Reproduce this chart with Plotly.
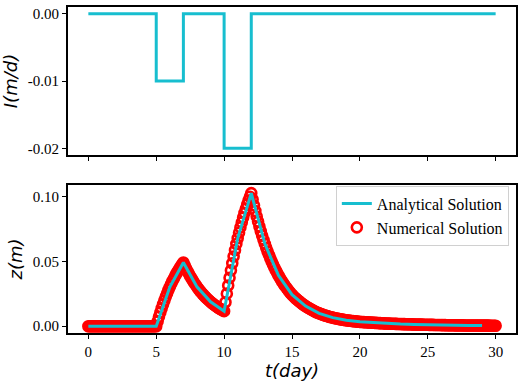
import plotly.graph_objects as go

# ---------------- data ----------------
# Infiltration / flux steps (m/d)
I_t = [0, 5, 7, 10, 12, 30]
I_val = [0.0, -0.01, 0.0, -0.02, 0.0, 0.0]

# Analytical solution sampled at whole days 0..29
ana_t = list(range(0, 30))
ana_z = [0.0, 0.0, 0.0, 0.0, 0.0, 0.0, 0.0302, 0.0490, 0.0303, 0.0188,
         0.0116, 0.0677, 0.1024, 0.0634, 0.0392, 0.0243, 0.0155, 0.0099,
         0.0066, 0.0046, 0.0034, 0.0027, 0.0021, 0.0017, 0.0014, 0.0011,
         0.0009, 0.0007, 0.0006, 0.0005]

# Numerical solution at 0.1-day steps, 0..30
num_t = [round(i * 0.1, 1) for i in range(301)]
num_z = [
    # 0.0 - 5.0
    0, 0, 0, 0, 0, 0, 0, 0, 0, 0,
    0, 0, 0, 0, 0, 0, 0, 0, 0, 0,
    0, 0, 0, 0, 0, 0, 0, 0, 0, 0,
    0, 0, 0, 0, 0, 0, 0, 0, 0, 0,
    0, 0, 0, 0, 0, 0, 0, 0, 0, 0,
    0,
    # 5.1 - 7.0
    0.00372, 0.00727, 0.01065, 0.01387, 0.01694, 0.01987, 0.02266, 0.02532, 0.02785, 0.03027,
    0.03257, 0.03477, 0.03686, 0.03885, 0.04075, 0.04257, 0.04429, 0.04593, 0.04750, 0.04900,
    # 7.1 - 10.0
    0.04670, 0.04452, 0.04243, 0.04044, 0.03854, 0.03674, 0.03502, 0.03337, 0.03181, 0.03032,
    0.02890, 0.02754, 0.02625, 0.02502, 0.02385, 0.02273, 0.02167, 0.02065, 0.01968, 0.01876,
    0.01788, 0.01704, 0.01624, 0.01548, 0.01476, 0.01406, 0.01341, 0.01278, 0.01218, 0.01161,
    # 10.1 - 12.0
    0.01851, 0.02508, 0.03135, 0.03732, 0.04302, 0.04844, 0.05362, 0.05855, 0.06324, 0.06772,
    0.07199, 0.07606, 0.07993, 0.08363, 0.08715, 0.09052, 0.09371, 0.09676, 0.09967, 0.10244,
    # 12.1 - 15.0
    0.09760, 0.09303, 0.08867, 0.08451, 0.08055, 0.07678, 0.07318, 0.06975, 0.06648, 0.06337,
    0.06040, 0.05756, 0.05487, 0.05230, 0.04985, 0.04750, 0.04528, 0.04316, 0.04113, 0.03921,
    0.03737, 0.03562, 0.03395, 0.03236, 0.03084, 0.02939, 0.02802, 0.02670, 0.02545, 0.02425,
    # 15.1 - 20.0
    0.02319, 0.02217, 0.02120, 0.02027, 0.01938, 0.01853, 0.01772, 0.01694, 0.01620, 0.01549,
    0.01481, 0.01416, 0.01354, 0.01295, 0.01238, 0.01184, 0.01132, 0.01082, 0.01035, 0.00990,
    0.00951, 0.00913, 0.00876, 0.00842, 0.00808, 0.00776, 0.00745, 0.00716, 0.00687, 0.00660,
    0.00637, 0.00614, 0.00592, 0.00571, 0.00551, 0.00531, 0.00512, 0.00494, 0.00477, 0.00460,
    0.00446, 0.00433, 0.00420, 0.00408, 0.00395, 0.00384, 0.00372, 0.00361, 0.00350, 0.00340,
    # 20.1 - 25.0
    0.00332, 0.00325, 0.00317, 0.00310, 0.00303, 0.00296, 0.00289, 0.00283, 0.00276, 0.00270,
    0.00263, 0.00257, 0.00251, 0.00244, 0.00238, 0.00232, 0.00227, 0.00221, 0.00216, 0.00210,
    0.00206, 0.00202, 0.00197, 0.00193, 0.00189, 0.00185, 0.00181, 0.00178, 0.00174, 0.00170,
    0.00167, 0.00164, 0.00160, 0.00157, 0.00154, 0.00151, 0.00148, 0.00146, 0.00143, 0.00140,
    0.00137, 0.00133, 0.00130, 0.00127, 0.00124, 0.00121, 0.00118, 0.00116, 0.00113, 0.00110,
    # 25.1 - 30.0
    0.00108, 0.00106, 0.00104, 0.00102, 0.00100, 0.00098, 0.00096, 0.00094, 0.00092, 0.00090,
    0.00088, 0.00086, 0.00083, 0.00081, 0.00079, 0.00077, 0.00075, 0.00073, 0.00072, 0.00070,
    0.00069, 0.00068, 0.00067, 0.00066, 0.00065, 0.00064, 0.00063, 0.00062, 0.00061, 0.00060,
    0.00059, 0.00058, 0.00057, 0.00056, 0.00055, 0.00054, 0.00053, 0.00052, 0.00051, 0.00050,
    0.00049, 0.00048, 0.00047, 0.00046, 0.00045, 0.00044, 0.00043, 0.00042, 0.00041, 0.00040,
]

x_ticks = [0, 5, 10, 15, 20, 25, 30]
x_ticktext = ["0", "5", "10", "15", "20", "25", "30"]
top_yticks = [0.0, -0.01, -0.02]
top_yticktext = ["0.00", "-0.01", "-0.02"]
bot_yticks = [0.0, 0.05, 0.10]
bot_yticktext = ["0.00", "0.05", "0.10"]

# ---------------- figure ----------------
CYAN = "#17becf"
SERIF = "Liberation Serif"
MATH = "DejaVu Sans"
TITLEFONT = dict(family=MATH, size=18, style="italic", color="black")

fig = go.Figure()

fig.add_trace(go.Scatter(x=I_t, y=I_val, mode="lines", line=dict(color=CYAN, width=3, shape="hv"),
                         showlegend=False, xaxis="x", yaxis="y"))
fig.add_trace(go.Scatter(x=num_t, y=num_z, mode="markers", name="Numerical Solution",
                         marker=dict(symbol="circle-open", size=10, color="red",
                                     line=dict(width=2.6, color="red")),
                         legendrank=2, xaxis="x2", yaxis="y2"))
fig.add_trace(go.Scatter(x=ana_t, y=ana_z, mode="lines", name="Analytical Solution",
                         line=dict(color=CYAN, width=3), legendrank=1, xaxis="x2", yaxis="y2"))


def axis(**kw):
    d = dict(showline=True, linewidth=2, linecolor="black", mirror=True,
             ticks="outside", ticklen=4, tickwidth=1, tickcolor="black",
             showgrid=False, zeroline=False, automargin=False,
             tickfont=dict(family=SERIF, size=15, color="black"))
    d.update(kw)
    return d


fig.update_layout(
    width=523, height=387,
    font=dict(family=SERIF, size=15, color="black"),
    margin=dict(l=68, r=7, t=7, b=54),
    paper_bgcolor="white", plot_bgcolor="white",
    xaxis=axis(range=[-1.5, 31.5], tickvals=x_ticks, ticktext=x_ticktext, showticklabels=False,
               anchor="y", domain=[0, 1]),
    xaxis2=axis(range=[-1.5, 31.5], tickvals=x_ticks, ticktext=x_ticktext,
                anchor="y2", domain=[0, 1],
                title=dict(text="t(day)", font=TITLEFONT, standoff=0)),
    yaxis=axis(range=[-0.021, 0.001], tickvals=top_yticks, ticktext=top_yticktext,
               anchor="x", domain=[0.546, 1.0],
               title=dict(text="I(m/d)", font=TITLEFONT, standoff=5)),
    yaxis2=axis(range=[-0.0052, 0.1087], tickvals=bot_yticks, ticktext=bot_yticktext,
                anchor="x2", domain=[0.0, 0.454],
                title=dict(text="z(m)", font=TITLEFONT, standoff=5)),
    showlegend=True,
    legend=dict(x=0.984, y=0.452, xanchor="right", yanchor="top",
                bgcolor="white", bordercolor="#d0d0d0", borderwidth=1,
                font=dict(family=SERIF, size=16, color="black"),
                tracegroupgap=0, itemwidth=30),
)

fig.write_html("out.html")
